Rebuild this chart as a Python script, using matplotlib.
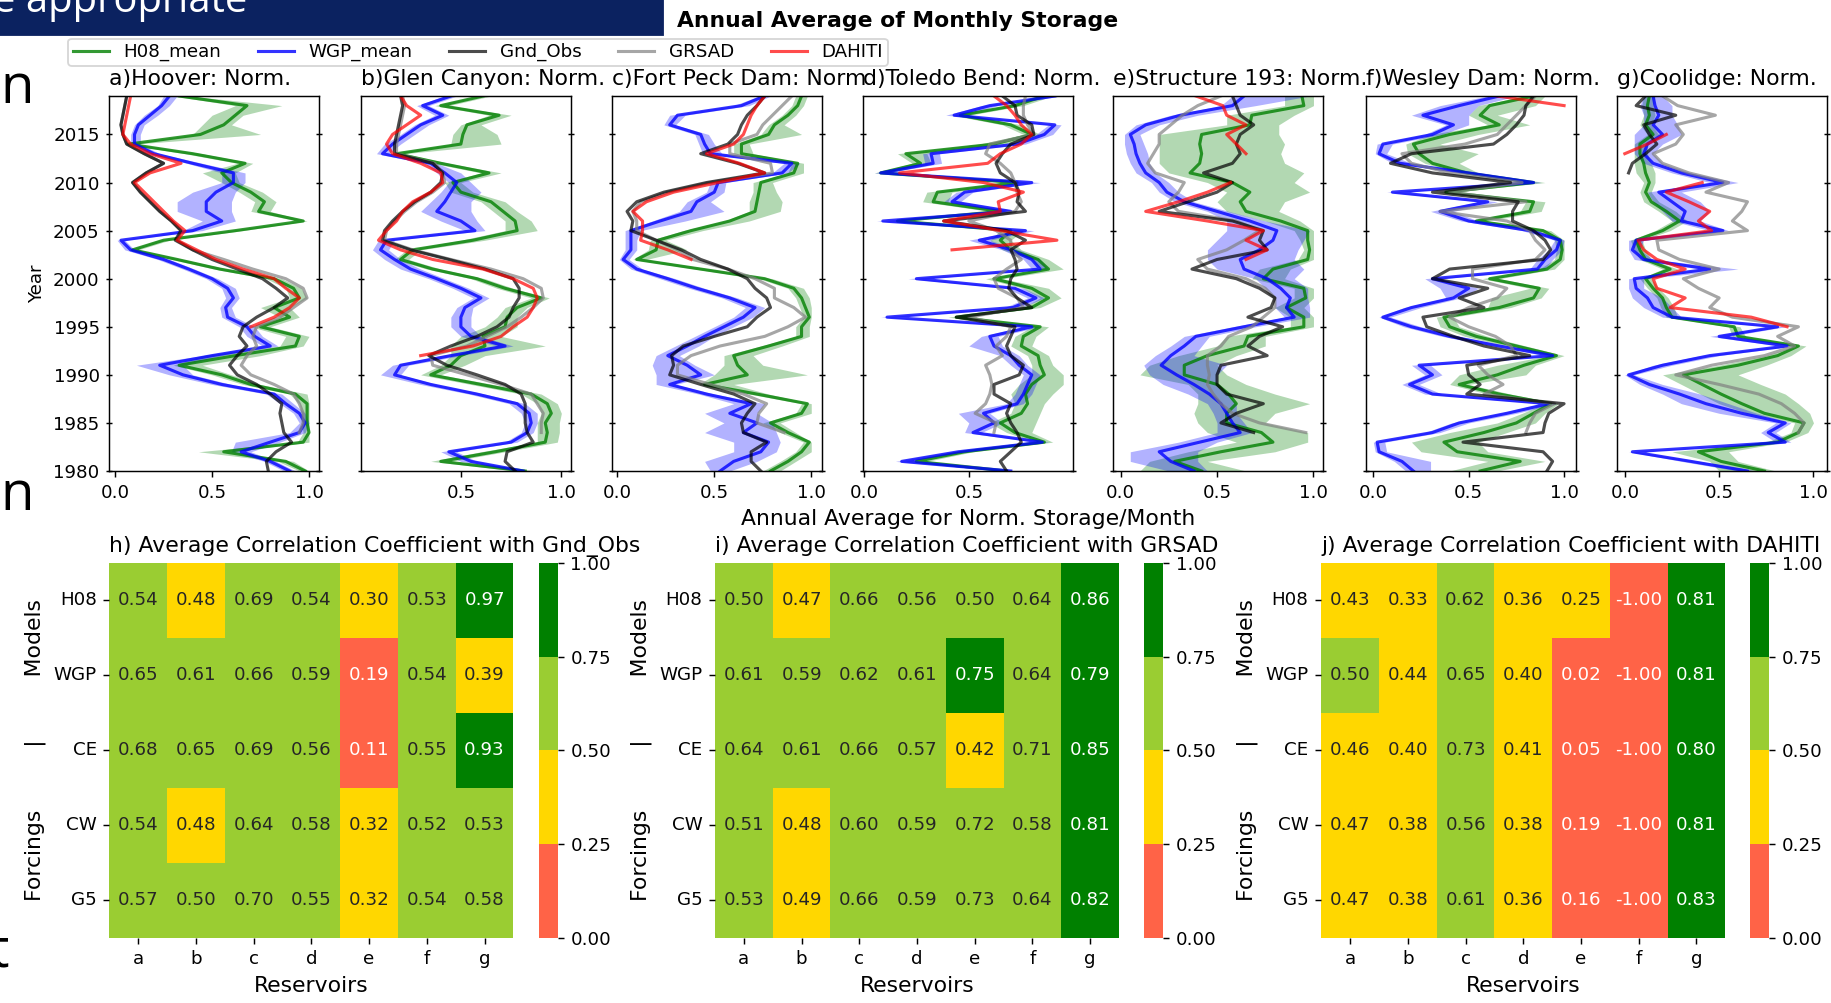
import numpy as np
import matplotlib
matplotlib.use('Agg')
import matplotlib.pyplot as plt
from matplotlib.colors import ListedColormap, BoundaryNorm
from matplotlib.lines import Line2D
from matplotlib.patches import Rectangle
import seaborn as sns

nan = np.nan
years = np.arange(1980, 2020)

# ---------------- a) Hoover
a_h08 = [0.98, 0.88, 0.56, 0.97, 1.00, 0.99, 0.99, 0.99, 0.93, 0.70,
         0.55, 0.33, 0.62, 0.93, 0.95, 0.75, 0.90, 0.82, 0.95, 0.92,
         0.82, 0.54, 0.32, 0.09, 0.25, 0.62, 0.97, 0.74, 0.77, 0.70,
         0.60, 0.55, 0.67, 0.40, 0.07, 0.44, 0.56, 0.62, 0.68, 0.33]
a_h08_lo = [0.95, 0.84, 0.43, 0.94, 0.97, 0.96, 0.96, 0.95, 0.90, 0.66,
            0.50, 0.30, 0.45, 0.85, 0.88, 0.70, 0.85, 0.75, 0.90, 0.88,
            0.78, 0.51, 0.29, 0.07, 0.22, 0.58, 0.94, 0.70, 0.72, 0.64,
            0.55, 0.45, 0.63, 0.36, 0.05, 0.40, 0.45, 0.50, 0.62, 0.30]
a_h08_hi = [1.00, 0.92, 0.60, 1.00, 1.00, 1.00, 1.00, 1.00, 0.99, 0.75,
            0.60, 0.45, 0.75, 0.97, 1.00, 0.80, 0.95, 0.90, 0.99, 0.96,
            0.86, 0.58, 0.35, 0.12, 0.28, 0.66, 0.99, 0.80, 0.83, 0.76,
            0.64, 0.62, 0.71, 0.45, 0.10, 0.75, 0.60, 0.66, 0.86, 0.38]
a_wgp = [0.90, 0.80, 0.65, 0.80, 0.95, 0.98, 0.95, 0.88, 0.82, 0.55,
         0.35, 0.23, 0.50, 0.80, 0.72, 0.68, 0.58, 0.57, 0.61, 0.58,
         0.50, 0.38, 0.25, 0.08, 0.03, 0.40, 0.55, 0.47, 0.47, 0.52,
         0.61, 0.61, 0.40, 0.20, 0.10, 0.10, 0.12, 0.18, 0.24, 0.28]
a_wgp_lo = [0.87, 0.77, 0.60, 0.62, 0.90, 0.95, 0.92, 0.85, 0.78, 0.50,
            0.28, 0.11, 0.45, 0.76, 0.68, 0.64, 0.55, 0.54, 0.57, 0.55,
            0.47, 0.35, 0.22, 0.05, 0.01, 0.35, 0.45, 0.32, 0.32, 0.40,
            0.55, 0.55, 0.37, 0.17, 0.08, 0.08, 0.10, 0.15, 0.22, 0.25]
a_wgp_hi = [0.93, 0.83, 0.70, 0.85, 0.98, 1.00, 0.98, 0.92, 0.86, 0.60,
            0.40, 0.35, 0.55, 0.84, 0.76, 0.72, 0.62, 0.60, 0.64, 0.62,
            0.53, 0.41, 0.28, 0.10, 0.05, 0.45, 0.62, 0.60, 0.60, 0.62,
            0.67, 0.67, 0.45, 0.23, 0.13, 0.13, 0.15, 0.22, 0.28, 0.32]
a_obs = [0.79, 0.78, 0.83, 0.91, 0.87, 0.86, 0.85, 0.86, 0.80, 0.73,
         0.63, 0.59, 0.63, 0.68, 0.64, 0.66, 0.73, 0.82, 0.89, 0.83,
         0.76, 0.63, 0.50, 0.40, 0.31, 0.34, 0.29, 0.23, 0.18, 0.13,
         0.09, 0.16, 0.25, 0.15, 0.06, 0.04, 0.03, 0.04, 0.05, 0.06]
a_grsad = [nan, nan, nan, nan, 0.95, 0.97, 0.97, 0.95, 0.92, 0.82,
           0.70, 0.65, 0.68, 0.73, 0.71, 0.73, 0.85, 0.92, 0.99, 0.97,
           0.88, 0.71, 0.56, 0.40, 0.32, 0.34, 0.29, 0.23, 0.18, 0.13,
           0.09, 0.16, 0.25, 0.15, 0.06, 0.04, 0.03, 0.04, 0.05, 0.06]
a_dahiti = [nan] * 15 + [0.70, 0.82, 0.90, 0.95, 0.88,
                         0.82, 0.66, 0.52, 0.42, 0.32, 0.36, 0.30, 0.25, 0.20, 0.15,
                         0.10, 0.18, 0.34, 0.18, 0.08, 0.04, 0.05, 0.06, 0.07, 0.08]

# ---------------- b) Glen Canyon
b_h08 = [0.82, 0.40, 0.67, 0.92, 0.93, 0.92, 0.95, 0.93, 0.85, 0.60,
         0.35, 0.45, 0.50, 0.62, 0.61, 0.72, 0.73, 0.78, 0.90, 0.72,
         0.58, 0.36, 0.20, 0.26, 0.56, 0.78, 0.77, 0.71, 0.65, 0.50,
         0.46, 0.64, 0.40, 0.18, 0.50, 0.51, 0.53, 0.69, 0.40, 0.61]
b_h08_lo = [0.78, 0.35, 0.60, 0.88, 0.88, 0.88, 0.90, 0.88, 0.80, 0.55,
            0.30, 0.40, 0.45, 0.45, 0.50, 0.62, 0.68, 0.72, 0.85, 0.68,
            0.55, 0.33, 0.17, 0.23, 0.50, 0.72, 0.72, 0.66, 0.60, 0.45,
            0.42, 0.60, 0.36, 0.15, 0.45, 0.46, 0.50, 0.64, 0.37, 0.58]
b_h08_hi = [0.88, 0.45, 0.72, 0.98, 0.99, 0.99, 1.00, 0.98, 0.90, 0.66,
            0.40, 0.52, 0.62, 0.92, 0.70, 0.78, 0.78, 0.83, 0.94, 0.76,
            0.62, 0.40, 0.24, 0.30, 0.62, 0.88, 0.85, 0.78, 0.72, 0.56,
            0.50, 0.70, 0.44, 0.22, 0.70, 0.68, 0.60, 0.75, 0.44, 0.65]
b_wgp = [0.81, 0.55, 0.44, 0.75, 0.83, 0.85, 0.84, 0.78, 0.58, 0.35,
         0.17, 0.20, 0.45, 0.72, 0.55, 0.50, 0.50, 0.52, 0.60, 0.50,
         0.38, 0.25, 0.17, 0.10, 0.13, 0.57, 0.50, 0.38, 0.42, 0.45,
         0.48, 0.42, 0.35, 0.11, 0.16, 0.23, 0.30, 0.41, 0.31, 0.45]
b_wgp_lo = [0.78, 0.50, 0.40, 0.72, 0.80, 0.82, 0.80, 0.74, 0.54, 0.30,
            0.10, 0.16, 0.40, 0.68, 0.50, 0.45, 0.45, 0.48, 0.56, 0.46,
            0.34, 0.20, 0.12, 0.06, 0.09, 0.52, 0.40, 0.30, 0.35, 0.40,
            0.44, 0.38, 0.32, 0.08, 0.12, 0.20, 0.27, 0.37, 0.28, 0.42]
b_wgp_hi = [0.84, 0.58, 0.48, 0.78, 0.86, 0.88, 0.88, 0.82, 0.62, 0.38,
            0.20, 0.24, 0.50, 0.76, 0.60, 0.55, 0.55, 0.56, 0.64, 0.54,
            0.42, 0.30, 0.20, 0.14, 0.17, 0.62, 0.58, 0.55, 0.55, 0.60,
            0.55, 0.50, 0.38, 0.14, 0.20, 0.27, 0.34, 0.44, 0.34, 0.48]
b_obs = [0.77, 0.72, 0.73, 0.86, 0.83, 0.82, 0.82, 0.82, 0.80, 0.72,
         0.58, 0.43, 0.34, 0.45, 0.58, 0.68, 0.74, 0.76, 0.79, 0.79,
         0.76, 0.62, 0.44, 0.25, 0.11, 0.12, 0.16, 0.21, 0.27, 0.35,
         0.40, 0.41, 0.36, 0.17, 0.17, 0.18, 0.19, 0.20, 0.21, 0.20]
b_grsad = [nan, nan, nan, nan, 0.90, 0.90, 0.91, 0.88, 0.85, 0.70,
           0.53, 0.36, 0.35, 0.53, 0.63, 0.73, 0.80, 0.86, 0.91, 0.90,
           0.81, 0.65, 0.45, 0.26, 0.12, 0.13, 0.17, 0.22, 0.28, 0.36,
           0.42, 0.41, 0.37, 0.18, 0.18, 0.19, 0.20, 0.21, 0.22, 0.21]
b_dahiti = [nan] * 12 + [0.30, 0.56, 0.70, 0.76, 0.83, 0.86, 0.88, 0.86,
                         0.76, 0.61, 0.36, 0.20, 0.09, 0.13, 0.18, 0.21, 0.26, 0.35,
                         0.41, 0.40, 0.30, 0.16, 0.13, 0.16, 0.23, 0.30, 0.23, 0.20]

# ---------------- c) Fort Peck Dam
c_h08 = [0.79, 0.88, 0.95, 0.99, 0.88, 0.79, 0.95, 0.98, 0.72, 0.45,
         0.67, 0.62, 0.60, 0.78, 0.95, 0.95, 0.99, 0.97, 0.95, 0.91,
         0.76, 0.43, 0.10, 0.20, 0.21, 0.38, 0.58, 0.71, 0.72, 0.73,
         0.74, 0.91, 0.93, 0.64, 0.64, 0.78, 0.81, 0.88, 0.93, 0.95]
c_h08_lo = [0.75, 0.84, 0.92, 0.96, 0.84, 0.75, 0.92, 0.95, 0.68, 0.42,
            0.50, 0.55, 0.55, 0.74, 0.92, 0.92, 0.96, 0.94, 0.92, 0.88,
            0.73, 0.40, 0.08, 0.16, 0.17, 0.34, 0.55, 0.68, 0.68, 0.70,
            0.70, 0.88, 0.90, 0.60, 0.60, 0.74, 0.78, 0.85, 0.90, 0.92]
c_h08_hi = [0.84, 0.92, 1.00, 1.00, 0.92, 0.84, 1.00, 1.00, 0.78, 0.60,
            0.98, 0.75, 0.70, 0.85, 0.99, 0.99, 1.00, 1.00, 0.99, 0.96,
            0.80, 0.48, 0.15, 0.36, 0.25, 0.44, 0.68, 0.84, 0.85, 0.82,
            0.80, 0.96, 0.96, 0.70, 0.68, 0.95, 0.86, 0.92, 0.96, 0.98]
c_wgp = [0.53, 0.60, 0.74, 0.78, 0.65, 0.72, 0.58, 0.69, 0.46, 0.27,
         0.43, 0.36, 0.26, 0.36, 0.45, 0.55, 0.65, 0.71, 0.58, 0.41,
         0.26, 0.10, 0.03, 0.07, 0.07, 0.07, 0.22, 0.38, 0.41, 0.50,
         0.52, 0.85, 0.90, 0.48, 0.45, 0.43, 0.27, 0.31, 0.64, 0.76]
c_wgp_lo = [0.48, 0.45, 0.60, 0.60, 0.45, 0.55, 0.45, 0.60, 0.42, 0.20,
            0.20, 0.18, 0.20, 0.30, 0.40, 0.50, 0.60, 0.66, 0.54, 0.37,
            0.22, 0.07, 0.01, 0.04, 0.04, 0.04, 0.18, 0.32, 0.36, 0.46,
            0.48, 0.80, 0.86, 0.44, 0.42, 0.40, 0.24, 0.27, 0.60, 0.73]
c_wgp_hi = [0.58, 0.72, 0.82, 0.84, 0.82, 0.80, 0.72, 0.76, 0.50, 0.30,
            0.50, 0.40, 0.32, 0.42, 0.50, 0.60, 0.70, 0.76, 0.62, 0.45,
            0.30, 0.13, 0.06, 0.10, 0.10, 0.12, 0.35, 0.55, 0.48, 0.55,
            0.56, 0.88, 0.94, 0.54, 0.50, 0.47, 0.30, 0.35, 0.68, 0.79]
c_obs = [0.74, 0.69, 0.69, 0.77, 0.65, 0.64, 0.67, 0.71, 0.60, 0.43,
         0.27, 0.29, 0.28, 0.34, 0.50, 0.67, 0.72, 0.79, 0.77, 0.71,
         0.67, 0.57, 0.43, 0.33, 0.20, 0.07, 0.08, 0.05, 0.10, 0.24,
         0.46, 0.76, 0.62, 0.43, 0.57, 0.62, 0.64, 0.67, 0.72, 0.76]
c_grsad = [nan, nan, nan, nan, 0.86, 0.72, 0.73, 0.77, 0.65, 0.48,
           0.31, 0.31, 0.38, 0.53, 0.76, 0.88, 0.97, 0.91, 0.81, 0.81,
           0.71, 0.57, 0.39, 0.31, 0.20, 0.10, 0.10, 0.08, 0.12, 0.26,
           0.48, 0.80, 0.79, 0.58, 0.58, 0.72, 0.75, 0.80, 0.85, 0.90]
c_dahiti = [nan] * 22 + [0.38, 0.26, 0.12, 0.13, 0.13, 0.08, 0.15, 0.29,
                         0.52, 0.76, 0.63, 0.46, 0.60, 0.65, 0.67, 0.69, 0.72, 0.76]

# ---------------- d) Toledo Bend
d_h08 = [0.68, 0.25, 0.48, 0.86, 0.72, 0.65, 0.75, 0.78, 0.77, 0.80,
         0.86, 0.84, 0.83, 0.75, 0.76, 0.84, 0.44, 0.80, 0.88, 0.80,
         0.62, 0.88, 0.83, 0.70, 0.65, 0.70, 0.16, 0.65, 0.33, 0.35,
         0.73, 0.08, 0.27, 0.20, 0.62, 0.80, 0.70, 0.46, 0.72, 0.86]
d_h08_lo = [0.64, 0.20, 0.44, 0.82, 0.68, 0.60, 0.70, 0.72, 0.70, 0.74,
            0.80, 0.80, 0.78, 0.70, 0.72, 0.80, 0.40, 0.76, 0.84, 0.76,
            0.58, 0.84, 0.80, 0.66, 0.60, 0.65, 0.12, 0.60, 0.28, 0.30,
            0.68, 0.05, 0.23, 0.16, 0.55, 0.76, 0.66, 0.42, 0.68, 0.82]
d_h08_hi = [0.72, 0.30, 0.52, 0.90, 0.80, 0.82, 0.84, 0.86, 0.90, 0.95,
            0.95, 0.90, 0.88, 0.80, 0.82, 0.88, 0.48, 0.84, 0.94, 0.88,
            0.66, 0.95, 0.88, 0.75, 0.70, 0.76, 0.20, 0.70, 0.40, 0.42,
            0.78, 0.12, 0.32, 0.30, 0.68, 0.84, 0.75, 0.50, 0.76, 0.90]
d_wgp = [0.70, 0.18, 0.45, 0.85, 0.52, 0.62, 0.57, 0.73, 0.76, 0.78,
         0.80, 0.74, 0.70, 0.62, 0.60, 0.80, 0.11, 0.71, 0.82, 0.72,
         0.25, 0.84, 0.80, 0.70, 0.55, 0.77, 0.09, 0.70, 0.42, 0.48,
         0.80, 0.08, 0.33, 0.32, 0.73, 0.86, 0.91, 0.43, 0.60, 0.91]
d_wgp_lo = [0.66, 0.15, 0.41, 0.82, 0.48, 0.50, 0.45, 0.68, 0.72, 0.74,
            0.76, 0.70, 0.65, 0.50, 0.56, 0.76, 0.08, 0.67, 0.78, 0.68,
            0.21, 0.80, 0.76, 0.66, 0.50, 0.73, 0.06, 0.66, 0.38, 0.44,
            0.76, 0.05, 0.29, 0.28, 0.69, 0.82, 0.88, 0.39, 0.56, 0.88]
d_wgp_hi = [0.74, 0.21, 0.49, 0.88, 0.56, 0.66, 0.60, 0.76, 0.80, 0.82,
            0.84, 0.78, 0.74, 0.66, 0.64, 0.84, 0.14, 0.75, 0.86, 0.76,
            0.29, 0.88, 0.84, 0.74, 0.60, 0.81, 0.12, 0.74, 0.46, 0.52,
            0.84, 0.11, 0.37, 0.36, 0.77, 0.90, 0.94, 0.47, 0.64, 0.94]
d_obs = [0.68, 0.65, 0.70, 0.75, 0.73, 0.70, 0.68, 0.70, 0.62, 0.62,
         0.74, 0.76, 0.70, 0.68, 0.70, 0.72, 0.44, 0.80, 0.73, 0.69,
         0.70, 0.73, 0.72, 0.70, 0.77, 0.68, 0.38, 0.77, 0.73, 0.74,
         0.72, 0.65, 0.63, 0.66, 0.70, 0.81, 0.80, 0.73, 0.72, 0.66]
d_grsad = [nan, nan, nan, nan, 0.62, 0.63, 0.53, 0.58, 0.60, 0.61,
           0.60, 0.58, 0.66, 0.63, 0.68, 0.70, 0.50, 0.76, 0.73, 0.64,
           0.62, 0.68, 0.75, 0.70, 0.70, 0.63, 0.50, 0.72, 0.75, 0.73,
           0.72, 0.70, 0.65, 0.58, 0.60, 0.81, 0.78, 0.76, 0.76, 0.77]
d_dahiti = [nan] * 23 + [0.42, 0.92, 0.65, 0.38, 0.65, 0.64, 0.76,
                         0.57, 0.17, 0.59, 0.65, 0.75, 0.80, 0.75, 0.72, 0.68, 0.62]

# ---------------- e) Structure 193
e_h08 = [0.42, 0.28, 0.52, 0.79, 0.73, 0.55, 0.55, 0.60, 0.56, 0.50,
         0.33, 0.33, 0.45, 0.64, 0.66, 0.95, 0.95, 0.86, 0.96, 0.95,
         0.74, 0.79, 0.97, 0.98, 0.97, 0.97, 0.83, 0.65, 0.62, 0.67,
         0.58, 0.36, 0.41, 0.42, 0.41, 0.42, 0.67, 0.68, 0.95, 0.94]
e_h08_lo = [0.10, 0.15, 0.35, 0.60, 0.45, 0.40, 0.38, 0.40, 0.40, 0.35,
            0.10, 0.15, 0.30, 0.50, 0.55, 0.88, 0.88, 0.80, 0.90, 0.90,
            0.68, 0.72, 0.92, 0.95, 0.93, 0.90, 0.75, 0.55, 0.50, 0.55,
            0.45, 0.25, 0.20, 0.20, 0.20, 0.20, 0.55, 0.55, 0.85, 0.85]
e_h08_hi = [0.65, 0.45, 0.80, 0.97, 0.97, 0.75, 0.80, 0.98, 0.80, 0.65,
            0.55, 0.50, 0.60, 0.75, 0.75, 1.00, 1.00, 0.95, 1.00, 1.00,
            0.85, 0.88, 1.00, 1.00, 1.00, 1.00, 0.93, 0.82, 0.85, 0.98,
            0.90, 0.95, 0.85, 0.83, 0.85, 0.82, 0.82, 0.90, 1.00, 1.00]
e_wgp = [0.38, 0.26, 0.20, 0.41, 0.62, 0.58, 0.55, 0.52, 0.46, 0.38,
         0.29, 0.21, 0.26, 0.33, 0.39, 0.64, 0.90, 0.86, 0.88, 0.83,
         0.76, 0.64, 0.62, 0.72, 0.79, 0.81, 0.67, 0.50, 0.33, 0.24,
         0.20, 0.13, 0.10, 0.08, 0.07, 0.05, 0.13, 0.31, 0.58, 0.64]
e_wgp_lo = [0.25, 0.05, 0.05, 0.30, 0.50, 0.50, 0.48, 0.45, 0.35, 0.22,
            0.15, 0.12, 0.18, 0.26, 0.33, 0.58, 0.85, 0.80, 0.80, 0.75,
            0.70, 0.50, 0.45, 0.45, 0.50, 0.55, 0.55, 0.45, 0.28, 0.20,
            0.16, 0.08, 0.05, 0.03, 0.02, 0.02, 0.08, 0.26, 0.52, 0.58]
e_wgp_hi = [0.45, 0.40, 0.40, 0.50, 0.68, 0.64, 0.60, 0.60, 0.55, 0.50,
            0.50, 0.55, 0.38, 0.42, 0.46, 0.70, 0.98, 0.98, 0.97, 0.97,
            0.90, 0.95, 0.90, 0.92, 0.95, 0.98, 0.75, 0.56, 0.38, 0.30,
            0.25, 0.18, 0.15, 0.14, 0.12, 0.10, 0.20, 0.40, 0.70, 0.98]
e_obs = [nan, nan, nan, nan, 0.69, 0.52, 0.60, 0.74, 0.55, 0.50,
         0.50, 0.52, 0.76, 0.66, 0.72, 0.84, 0.66, 0.78, 0.80, 0.72,
         0.60, 0.37, 0.50, 0.76, 0.72, 0.74, 0.58, 0.20, 0.35, 0.50,
         0.58, 0.43, 0.58, 0.62, 0.60, 0.62, 0.69, 0.62, 0.60, 0.58]
e_grsad = [nan, nan, nan, nan, 0.96, 0.72, 0.58, 0.52, 0.48, 0.45,
           0.46, 0.45, 0.45, 0.52, 0.56, 0.68, 0.74, 0.80, 0.80, 0.75,
           0.65, 0.45, 0.40, 0.55, 0.64, 0.72, 0.60, 0.30, 0.25, 0.30,
           0.33, 0.18, 0.14, 0.17, 0.20, 0.20, 0.26, 0.32, 0.40, 0.52]
e_dahiti = [nan] * 22 + [0.65, 0.76, 0.65, 0.74, 0.45, 0.13, 0.30, 0.45,
                         0.57, nan, nan, 0.65, 0.60, 0.55, 0.65, 0.55, 0.53, 0.39]

# ---------------- f) Wesley Dam
f_h08 = [0.56, 0.77, 0.44, 0.37, 0.58, 0.75, 0.84, 0.93, 0.66, 0.45,
         0.65, 0.79, 0.96, 0.75, 0.54, 0.40, 0.37, 0.66, 0.84, 0.87,
         0.61, 0.91, 0.98, 0.99, 0.98, 0.89, 0.54, 0.82, 0.84, 0.38,
         0.84, 0.49, 0.31, 0.24, 0.21, 0.40, 0.66, 0.56, 0.61, 0.84]
f_h08_lo = [0.40, 0.60, 0.25, 0.20, 0.40, 0.65, 0.78, 0.90, 0.60, 0.40,
            0.45, 0.65, 0.92, 0.70, 0.48, 0.35, 0.33, 0.60, 0.62, 0.82,
            0.57, 0.87, 0.95, 0.96, 0.95, 0.85, 0.50, 0.77, 0.80, 0.34,
            0.80, 0.45, 0.27, 0.18, 0.17, 0.30, 0.60, 0.50, 0.55, 0.80]
f_h08_hi = [0.65, 0.90, 0.60, 0.55, 0.70, 0.85, 0.90, 0.97, 0.72, 0.50,
            0.80, 0.85, 1.00, 0.80, 0.60, 0.45, 0.42, 0.72, 0.88, 0.92,
            0.66, 0.95, 1.00, 1.00, 1.00, 0.93, 0.60, 0.88, 0.90, 0.42,
            0.90, 0.55, 0.45, 0.55, 0.35, 0.55, 0.82, 0.65, 0.85, 0.90]
f_wgp = [0.21, 0.15, 0.03, 0.02, 0.31, 0.45, 0.70, 0.92, 0.31, 0.19,
         0.31, 0.24, 0.94, 0.66, 0.40, 0.20, 0.05, 0.20, 0.42, 0.50,
         0.31, 0.86, 0.90, 0.96, 0.98, 0.82, 0.50, 0.35, 0.60, 0.10,
         0.84, 0.50, 0.14, 0.03, 0.05, 0.31, 0.42, 0.26, 0.45, 0.66]
f_wgp_lo = [0.17, 0.11, 0.01, 0.00, 0.27, 0.41, 0.66, 0.88, 0.27, 0.15,
            0.27, 0.20, 0.90, 0.62, 0.36, 0.16, 0.03, 0.16, 0.38, 0.35,
            0.27, 0.82, 0.86, 0.92, 0.95, 0.78, 0.46, 0.30, 0.55, 0.07,
            0.80, 0.46, 0.10, 0.01, 0.02, 0.27, 0.38, 0.20, 0.35, 0.60]
f_wgp_hi = [0.30, 0.30, 0.07, 0.06, 0.35, 0.50, 0.75, 0.96, 0.36, 0.24,
            0.36, 0.30, 0.97, 0.70, 0.45, 0.25, 0.09, 0.25, 0.46, 0.55,
            0.36, 0.90, 0.94, 0.99, 1.00, 0.86, 0.55, 0.42, 0.65, 0.14,
            0.88, 0.55, 0.20, 0.07, 0.10, 0.36, 0.50, 0.50, 0.55, 0.75]
f_obs = [0.91, 0.94, 0.89, 0.47, 0.89, 0.90, 0.92, 1.00, 0.49, 0.56,
         0.50, 0.49, 0.82, 0.58, 0.42, 0.28, 0.26, 0.58, 0.45, 0.60,
         0.31, 0.40, 0.89, 0.93, 0.90, 0.84, 0.73, 0.73, 0.76, 0.31,
         0.72, 0.31, 0.09, 0.20, 0.63, 0.70, 0.75, 0.79, 0.80, 0.84]
f_grsad = [nan, nan, nan, nan, 0.80, 0.82, 0.85, 0.95, 0.58, 0.68,
           0.60, 0.55, 0.75, 0.72, 0.64, 0.50, 0.40, 0.50, 0.65, 0.70,
           0.52, 0.52, 0.85, 0.90, 0.85, 0.82, 0.70, 0.35, 0.80, 0.40,
           0.78, 0.40, 0.20, 0.15, 0.48, 0.65, 0.70, 0.75, 0.80, 0.85]
f_dahiti = [nan] * 38 + [1.00, 0.65]

# ---------------- g) Coolidge
g_h08 = [0.74, 0.51, 0.39, 0.81, 0.92, 0.95, 0.74, 0.62, 0.51, 0.41,
         0.31, 0.60, 0.81, 0.92, 0.60, 0.58, 0.25, 0.22, 0.20, 0.15,
         0.11, 0.24, 0.11, 0.08, 0.06, 0.20, 0.29, 0.22, 0.14, 0.11,
         0.13, 0.11, 0.10, 0.08, 0.08, 0.15, 0.11, 0.13, 0.12, 0.13]
g_h08_lo = [0.50, 0.45, 0.25, 0.75, 0.88, 0.90, 0.65, 0.50, 0.40, 0.30,
            0.20, 0.50, 0.75, 0.90, 0.57, 0.55, 0.22, 0.19, 0.17, 0.12,
            0.08, 0.20, 0.08, 0.05, 0.03, 0.16, 0.25, 0.18, 0.10, 0.08,
            0.10, 0.06, 0.05, 0.05, 0.05, 0.12, 0.08, 0.10, 0.09, 0.10]
g_h08_hi = [0.80, 0.60, 0.55, 0.85, 0.97, 1.00, 0.98, 0.92, 0.85, 0.72,
            0.60, 0.75, 0.88, 0.96, 0.64, 0.61, 0.28, 0.26, 0.23, 0.18,
            0.14, 0.28, 0.14, 0.11, 0.09, 0.24, 0.33, 0.27, 0.18, 0.14,
            0.16, 0.16, 0.14, 0.12, 0.12, 0.18, 0.14, 0.16, 0.15, 0.16]
g_wgp = [0.65, 0.35, 0.04, 0.85, 0.76, 0.85, 0.62, 0.43, 0.29, 0.13,
         0.02, 0.20, 0.45, 0.86, 0.50, 0.81, 0.25, 0.15, 0.12, 0.06,
         0.05, 0.45, 0.10, 0.04, 0.06, 0.52, 0.30, 0.32, 0.25, 0.18,
         0.52, 0.30, 0.15, 0.10, 0.12, 0.20, 0.15, 0.18, 0.16, 0.15]
g_wgp_lo = [0.60, 0.30, 0.02, 0.80, 0.72, 0.80, 0.50, 0.30, 0.20, 0.08,
            0.00, 0.15, 0.40, 0.82, 0.45, 0.77, 0.20, 0.10, 0.04, 0.02,
            0.02, 0.40, 0.05, 0.02, 0.02, 0.45, 0.25, 0.20, 0.15, 0.12,
            0.45, 0.25, 0.10, 0.05, 0.05, 0.05, 0.10, 0.10, 0.08, 0.10]
g_wgp_hi = [0.70, 0.40, 0.07, 0.88, 0.80, 0.88, 0.70, 0.55, 0.40, 0.20,
            0.05, 0.25, 0.50, 0.90, 0.55, 0.85, 0.30, 0.25, 0.20, 0.10,
            0.10, 0.60, 0.15, 0.08, 0.10, 0.55, 0.40, 0.45, 0.40, 0.30,
            0.60, 0.35, 0.20, 0.15, 0.20, 0.30, 0.28, 0.25, 0.25, 0.20]
g_obs = [nan] * 31 + [0.02, 0.04, 0.11, 0.17, 0.13, 0.10, 0.27, 0.06, 0.11]
g_grsad = [nan, nan, nan, nan, 0.92, 0.95, 0.90, 0.83, 0.71, 0.50,
           0.27, 0.46, 0.74, 0.90, 0.81, 0.92, 0.57, 0.45, 0.50, 0.39,
           0.31, 0.50, 0.29, 0.18, 0.17, 0.65, 0.57, 0.62, 0.65, 0.43,
           0.55, 0.34, 0.20, 0.15, 0.27, 0.31, 0.27, 0.48, 0.28, 0.20]
g_dahiti = [nan] * 15 + [0.86, 0.67, 0.24, 0.32, 0.17,
                         0.15, 0.32, 0.17, 0.10, 0.07, 0.46, 0.39, 0.45, 0.34, 0.22,
                         0.41, nan, nan, 0.00, 0.12, 0.22, nan, nan, nan, nan]

panel_titles = ['a)Hoover: Norm.', 'b)Glen Canyon: Norm.', 'c)Fort Peck Dam: Norm',
                'd)Toledo Bend: Norm.', 'e)Structure 193: Norm.', 'f)Wesley Dam: Norm.',
                'g)Coolidge: Norm.']
panel_data = [
    (a_h08, a_h08_lo, a_h08_hi, a_wgp, a_wgp_lo, a_wgp_hi, a_obs, a_grsad, a_dahiti),
    (b_h08, b_h08_lo, b_h08_hi, b_wgp, b_wgp_lo, b_wgp_hi, b_obs, b_grsad, b_dahiti),
    (c_h08, c_h08_lo, c_h08_hi, c_wgp, c_wgp_lo, c_wgp_hi, c_obs, c_grsad, c_dahiti),
    (d_h08, d_h08_lo, d_h08_hi, d_wgp, d_wgp_lo, d_wgp_hi, d_obs, d_grsad, d_dahiti),
    (e_h08, e_h08_lo, e_h08_hi, e_wgp, e_wgp_lo, e_wgp_hi, e_obs, e_grsad, e_dahiti),
    (f_h08, f_h08_lo, f_h08_hi, f_wgp, f_wgp_lo, f_wgp_hi, f_obs, f_grsad, f_dahiti),
    (g_h08, g_h08_lo, g_h08_hi, g_wgp, g_wgp_lo, g_wgp_hi, g_obs, g_grsad, g_dahiti),
]

# ---------------- correlation heatmaps
reservoirs = ['a', 'b', 'c', 'd', 'e', 'f', 'g']
forcings = ['H08', 'WGP', 'CE', 'CW', 'G5']
corr_gnd = [[0.54, 0.48, 0.69, 0.54, 0.30, 0.53, 0.97],
            [0.65, 0.61, 0.66, 0.59, 0.19, 0.54, 0.39],
            [0.68, 0.65, 0.69, 0.56, 0.11, 0.55, 0.93],
            [0.54, 0.48, 0.64, 0.58, 0.32, 0.52, 0.53],
            [0.57, 0.50, 0.70, 0.55, 0.32, 0.54, 0.58]]
corr_grsad = [[0.50, 0.47, 0.66, 0.56, 0.50, 0.64, 0.86],
              [0.61, 0.59, 0.62, 0.61, 0.75, 0.64, 0.79],
              [0.64, 0.61, 0.66, 0.57, 0.42, 0.71, 0.85],
              [0.51, 0.48, 0.60, 0.59, 0.72, 0.58, 0.81],
              [0.53, 0.49, 0.66, 0.59, 0.73, 0.64, 0.82]]
corr_dahiti = [[0.43, 0.33, 0.62, 0.36, 0.25, -1.00, 0.81],
               [0.50, 0.44, 0.65, 0.40, 0.02, -1.00, 0.81],
               [0.46, 0.40, 0.73, 0.41, 0.05, -1.00, 0.80],
               [0.47, 0.38, 0.56, 0.38, 0.19, -1.00, 0.81],
               [0.47, 0.38, 0.61, 0.36, 0.16, -1.00, 0.83]]
heat_titles = ['h) Average Correlation Coefficient with Gnd_Obs',
               'i) Average Correlation Coefficient with GRSAD',
               'j) Average Correlation Coefficient with DAHITI']

# ---------------- figure
W, H, DPI = 1831, 1003, 131
fig = plt.figure(figsize=(W / DPI, H / DPI), dpi=DPI)

def fr(x0, y0, x1, y1):
    return [x0 / W, 1 - y1 / H, (x1 - x0) / W, (y1 - y0) / H]

lefts = [109.3, 361.0, 612.3, 863.3, 1113.3, 1365.7, 1616.7]
xlims = [(-0.03, 1.053), (0.003, 1.048), (-0.026, 1.057), (-0.003, 0.998),
         (-0.038, 1.051), (-0.04, 1.061), (-0.043, 1.07)]

for i, (title, dat) in enumerate(zip(panel_titles, panel_data)):
    h08, h08_lo, h08_hi, wgp, wgp_lo, wgp_hi, obs, grsad, dahiti = [np.array(v, float) for v in dat]
    ax = fig.add_axes(fr(lefts[i], 96, lefts[i] + 210, 471))
    ax.fill_betweenx(years, h08_lo, h08_hi, color='green', alpha=0.3, lw=0)
    ax.plot(h08, years, color='green', alpha=0.8, lw=1.7)
    ax.fill_betweenx(years, wgp_lo, wgp_hi, color='blue', alpha=0.3, lw=0)
    ax.plot(wgp, years, color='blue', alpha=0.8, lw=1.7)
    ax.plot(grsad, years, color='gray', alpha=0.7, lw=1.7)
    ax.plot(obs, years, color='black', alpha=0.7, lw=1.7)
    ax.plot(dahiti, years, color='red', alpha=0.7, lw=1.7)
    ax.set_ylim(1980, 2019)
    ax.set_xticks([0.0, 0.5, 1.0])
    ax.set_xlim(*xlims[i])
    ax.set_yticks(range(1980, 2016, 5))
    ax.tick_params(axis='y', right=True, direction='inout')
    ax.set_title(title, loc='left')
    if i == 0:
        ax.set_ylabel('Year')
    else:
        ax.set_yticklabels([])
    if i == 3:
        ax.set_xlabel('Annual Average for Norm. Storage/Month', fontsize=12)

handles = [Line2D([], [], color='green', alpha=0.8, lw=1.7, label='H08_mean'),
           Line2D([], [], color='blue', alpha=0.8, lw=1.7, label='WGP_mean'),
           Line2D([], [], color='black', alpha=0.7, lw=1.7, label='Gnd_Obs'),
           Line2D([], [], color='gray', alpha=0.7, lw=1.7, label='GRSAD'),
           Line2D([], [], color='red', alpha=0.7, lw=1.7, label='DAHITI')]
fig.legend(handles=handles, loc='upper left', bbox_to_anchor=(68 / W, 1 - 38.5 / H), ncol=5,
           borderaxespad=0, borderpad=0.25)
fig.text(898 / W, 1 - 21 / H, 'Annual Average of Monthly Storage', ha='center', va='center',
         fontsize=12, fontweight='bold')

cmap = ListedColormap(['tomato', 'gold', 'yellowgreen', 'green'])
cmap.set_under('tomato')
norm = BoundaryNorm([0, 0.25, 0.5, 0.75, 1.0], cmap.N)

heat_lefts = [109.4, 715.0, 1321.3]
cbar_lefts = [538.7, 1144.4, 1750.0]
for k, (tt, corr) in enumerate(zip(heat_titles, [corr_gnd, corr_grsad, corr_dahiti])):
    ax = fig.add_axes(fr(heat_lefts[k], 563, heat_lefts[k] + 404, 937.7))
    cax = fig.add_axes(fr(cbar_lefts[k], 563, cbar_lefts[k] + 19, 937.7))
    sns.heatmap(np.array(corr), ax=ax, cbar_ax=cax, cmap=cmap, norm=norm, annot=True, fmt='.2f',
                xticklabels=reservoirs, yticklabels=forcings,
                cbar_kws={'ticks': [0, 0.25, 0.5, 0.75, 1.0]})
    ax.set_yticklabels(forcings, rotation=0)
    ax.set_xticklabels(reservoirs, rotation=0)
    ax.set_title(tt, loc='left')
    ax.set_xlabel('Reservoirs', fontsize=12)
    ax.set_ylabel('Forcings         |         Models', fontsize=12)
    cax.set_yticklabels(['0.00', '0.25', '0.50', '0.75', '1.00'])

# cropped slide remnants around the chart
fig.patches.append(Rectangle((0, 1 - 35 / H), 663 / W, 35 / H, transform=fig.transFigure,
                             color='#0b2260', zorder=0))
fig.text(-0.004, 1 - 12 / H, 'e appropriate', color='white', fontsize=22, family='Open Sans',
         va='baseline', ha='left')
fig.text(0.0, 1 - 103 / H, 'n', fontsize=30, family='Open Sans', va='baseline', ha='left')
fig.text(0.0, 1 - 510 / H, 'n', fontsize=30, family='Open Sans', va='baseline', ha='left')
fig.text(-0.006, 1 - 968 / H, 't', fontsize=30, family='Open Sans', va='baseline', ha='left')

fig.savefig('out.png', dpi=DPI)
